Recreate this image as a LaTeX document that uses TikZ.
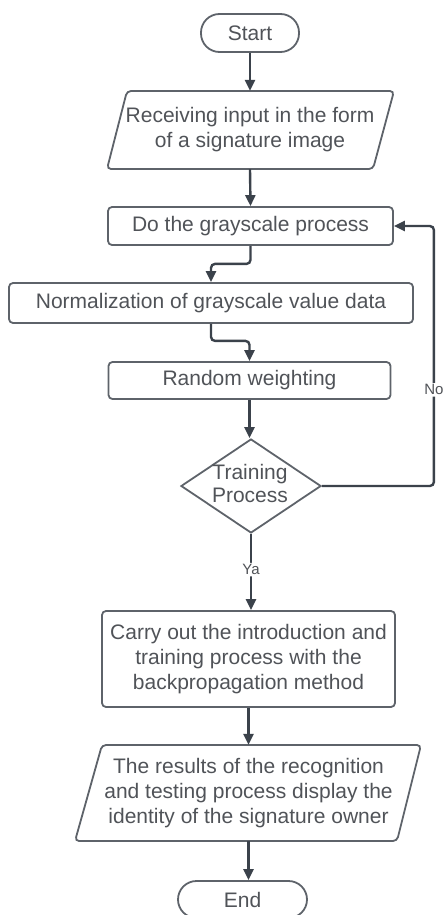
\documentclass[tikz,border=0pt]{standalone}
\usepackage{fontspec}
\setmainfont{Liberation Sans}
\usetikzlibrary{arrows.meta,shapes.geometric}
\definecolor{linec}{HTML}{3B424B}
\definecolor{boxc}{HTML}{5E636A}
\definecolor{txtc}{HTML}{505358}
\begin{document}
\begin{tikzpicture}[x=1pt,y=-1pt,
  every node/.style={font=\fontsize{21}{25}\selectfont, text=txtc, align=center, inner sep=0pt},
  boxline/.style={draw=boxc, line width=1.8pt},
  proc/.style={boxline, rounded corners=4pt},
  term/.style={boxline, rounded corners=18.5pt, minimum width=98pt, minimum height=38pt},
  arr/.style={draw=linec, line width=2.4pt, rounded corners=4pt, -{Triangle[length=11pt,width=10pt]}},
  lbl/.style={fill=white, font=\fontsize{15}{17}\selectfont, inner sep=1.5pt},
  ]
\useasboundingbox (0,0) rectangle (442,915);

\node[term] (start) at (250,33) {Start};

\node[minimum width=266pt, minimum height=78pt] (recv) at (250,130) {Receiving input in the form\\of a signature image};
\draw[proc] (127,91) -- (394,91) -- (373,169) -- (107,169) -- cycle;

\node[proc, minimum width=285pt, minimum height=38pt] (gray) at (250.5,226) {Do the grayscale process};
\node[proc, minimum width=404pt, minimum height=40pt] (norm) at (211,303) {Normalization of grayscale value data};
\node[proc, minimum width=282pt, minimum height=37pt] (rand) at (249.5,380.5) {Random weighting};

\node[boxline, diamond, minimum width=140pt, minimum height=94pt, inner sep=0pt] (dec) at (251,486) {};
\node (dect) at (250,483.5) {Training\\[-2pt]Process};

\node[proc, minimum width=293pt, minimum height=96pt] (carry) at (248.5,659) {Carry out the introduction and\\training process with the\\backpropagation method};

\node[minimum width=320pt, minimum height=96pt] (res) at (248.5,793) {The results of the recognition\\and testing process display the\\identity of the signature owner};
\draw[proc] (102,745) -- (421,745) -- (397,841) -- (75,841) -- cycle;

\node[term, minimum width=129pt, minimum height=37pt] (end) at (242.5,899.5) {End};

\draw[arr] (start.south) -- (recv.north);
\draw[arr] (recv.south) -- (gray.north);
\draw[arr] (gray.south) -- ++(0,18) -| (norm.north);
\draw[arr] (norm.south) -- ++(0,17) -| (rand.north);
\draw[arr] (rand.south) -- (rand.south |- dec.north);
\draw[arr] (dec.east) -- ++(112,0) |- node[lbl, pos=0.185] {No} (gray.east);
\draw[arr] (dec.south) -- node[lbl, pos=0.47] {Ya} (dec.south |- carry.north);
\draw[arr] (carry.south) -- (carry.south |- res.north);
\draw[arr] (res.south) -- (res.south |- end.north);
\end{tikzpicture}
\end{document}
